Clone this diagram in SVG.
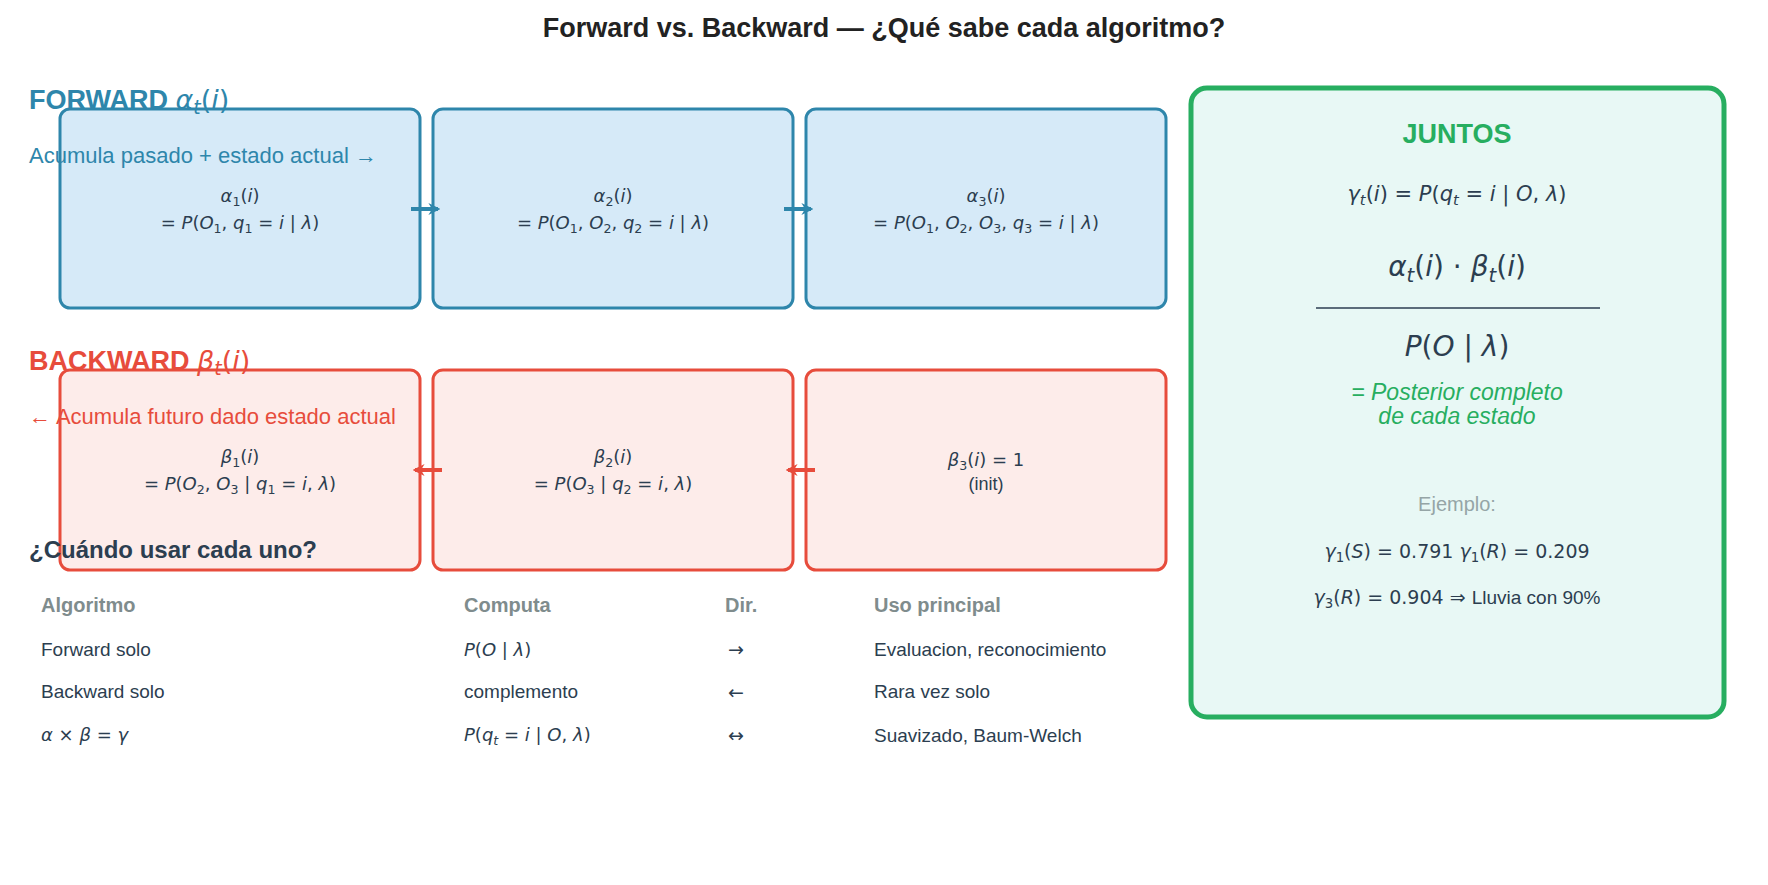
<svg xmlns="http://www.w3.org/2000/svg" width="1768" height="885" viewBox="0 0 1768 885">
<style>
.s{font-family:"Liberation Sans",Arial,sans-serif}
.m{font-family:"DejaVu Sans",sans-serif;fill:#2c3e50}
.i{font-style:italic}
.fb{fill:#d6eaf8;stroke:#2e86ab;stroke-width:3}
.bb{fill:#fdecea;stroke:#e74c3c;stroke-width:3}
.sub{font-size:70%}
</style>
<defs>
<marker id="ab" viewBox="0 0 10 10" refX="8" refY="5" markerWidth="3" markerHeight="3" orient="auto"><path d="M0,0 L10,5 L0,10 L3,5z" fill="#2e86ab"/></marker>
<marker id="ar" viewBox="0 0 10 10" refX="8" refY="5" markerWidth="3" markerHeight="3" orient="auto"><path d="M0,0 L10,5 L0,10 L3,5z" fill="#e74c3c"/></marker>
</defs>
<rect width="1768" height="885" fill="#fff"/>
<text x="884" y="37" text-anchor="middle" class="s" font-size="27" font-weight="bold" fill="#222">Forward vs. Backward — ¿Qué sabe cada algoritmo?</text>

<g id="f1"><rect class="fb" x="60" y="109" width="360" height="199" rx="10"/>
<text class="m" x="240" y="202" text-anchor="middle" font-size="18"><tspan class="i">α</tspan><tspan class="sub" dy="4">1</tspan><tspan dy="-4">(</tspan><tspan class="i">i</tspan>)</text>
<text class="m" x="240" y="229" text-anchor="middle" font-size="18">= <tspan class="i">P</tspan>(<tspan class="i">O</tspan><tspan class="sub" dy="4">1</tspan><tspan dy="-4">,  </tspan><tspan class="i">q</tspan><tspan class="sub" dy="4">1</tspan><tspan dy="-4"> = </tspan><tspan class="i">i</tspan> | <tspan class="i">λ</tspan>)</text></g>
<g id="f2"><rect class="fb" x="433" y="109" width="360" height="199" rx="10"/>
<text class="m" x="613" y="202" text-anchor="middle" font-size="18"><tspan class="i">α</tspan><tspan class="sub" dy="4">2</tspan><tspan dy="-4">(</tspan><tspan class="i">i</tspan>)</text>
<text class="m" x="613" y="229" text-anchor="middle" font-size="18">= <tspan class="i">P</tspan>(<tspan class="i">O</tspan><tspan class="sub" dy="4">1</tspan><tspan dy="-4">, </tspan><tspan class="i">O</tspan><tspan class="sub" dy="4">2</tspan><tspan dy="-4">,  </tspan><tspan class="i">q</tspan><tspan class="sub" dy="4">2</tspan><tspan dy="-4"> = </tspan><tspan class="i">i</tspan> | <tspan class="i">λ</tspan>)</text></g>
<g id="f3"><rect class="fb" x="806" y="109" width="360" height="199" rx="10"/>
<text class="m" x="986" y="202" text-anchor="middle" font-size="18"><tspan class="i">α</tspan><tspan class="sub" dy="4">3</tspan><tspan dy="-4">(</tspan><tspan class="i">i</tspan>)</text>
<text class="m" x="986" y="229" text-anchor="middle" font-size="18">= <tspan class="i">P</tspan>(<tspan class="i">O</tspan><tspan class="sub" dy="4">1</tspan><tspan dy="-4">, </tspan><tspan class="i">O</tspan><tspan class="sub" dy="4">2</tspan><tspan dy="-4">, </tspan><tspan class="i">O</tspan><tspan class="sub" dy="4">3</tspan><tspan dy="-4">,  </tspan><tspan class="i">q</tspan><tspan class="sub" dy="4">3</tspan><tspan dy="-4"> = </tspan><tspan class="i">i</tspan> | <tspan class="i">λ</tspan>)</text></g>

<g id="b1"><rect class="bb" x="60" y="370" width="360" height="200" rx="10"/>
<text class="m" x="240" y="463" text-anchor="middle" font-size="18"><tspan class="i">β</tspan><tspan class="sub" dy="4">1</tspan><tspan dy="-4">(</tspan><tspan class="i">i</tspan>)</text>
<text class="m" x="240" y="490" text-anchor="middle" font-size="18">= <tspan class="i">P</tspan>(<tspan class="i">O</tspan><tspan class="sub" dy="4">2</tspan><tspan dy="-4">, </tspan><tspan class="i">O</tspan><tspan class="sub" dy="4">3</tspan><tspan dy="-4"> | </tspan><tspan class="i">q</tspan><tspan class="sub" dy="4">1</tspan><tspan dy="-4"> = </tspan><tspan class="i">i</tspan>, <tspan class="i">λ</tspan>)</text></g>
<g id="b2"><rect class="bb" x="433" y="370" width="360" height="200" rx="10"/>
<text class="m" x="613" y="463" text-anchor="middle" font-size="18"><tspan class="i">β</tspan><tspan class="sub" dy="4">2</tspan><tspan dy="-4">(</tspan><tspan class="i">i</tspan>)</text>
<text class="m" x="613" y="490" text-anchor="middle" font-size="18">= <tspan class="i">P</tspan>(<tspan class="i">O</tspan><tspan class="sub" dy="4">3</tspan><tspan dy="-4"> | </tspan><tspan class="i">q</tspan><tspan class="sub" dy="4">2</tspan><tspan dy="-4"> = </tspan><tspan class="i">i</tspan>, <tspan class="i">λ</tspan>)</text></g>
<g id="b3"><rect class="bb" x="806" y="370" width="360" height="200" rx="10"/>
<text class="m" x="986" y="466" text-anchor="middle" font-size="18"><tspan class="i">β</tspan><tspan class="sub" dy="4">3</tspan><tspan dy="-4">(</tspan><tspan class="i">i</tspan>) = 1</text>
<text class="s" x="986" y="490" text-anchor="middle" font-size="18" fill="#2c3e50">(init)</text></g>

<g id="connectors" stroke-width="4" fill="none">
<line x1="411" y1="209" x2="438" y2="209" stroke="#2e86ab" marker-end="url(#ab)"/>
<line x1="784" y1="209" x2="811" y2="209" stroke="#2e86ab" marker-end="url(#ab)"/>
<line x1="442" y1="470" x2="415" y2="470" stroke="#e74c3c" marker-end="url(#ar)"/>
<line x1="815" y1="470" x2="788" y2="470" stroke="#e74c3c" marker-end="url(#ar)"/>
</g>

<g id="labels">
<text x="29" y="109" class="s" font-size="27" font-weight="bold" fill="#2e86ab">FORWARD <tspan font-family="DejaVu Sans" font-weight="normal" class="i"> α</tspan><tspan font-family="DejaVu Sans" font-weight="normal" class="i sub" dy="5">t</tspan><tspan font-family="DejaVu Sans" font-weight="normal" dy="-5">(</tspan><tspan font-family="DejaVu Sans" font-weight="normal" class="i">i</tspan><tspan font-family="DejaVu Sans" font-weight="normal">)</tspan></text>
<text x="29" y="163" class="s" font-size="22" fill="#2e86ab">Acumula pasado + estado actual  →</text>
<text x="29" y="370" class="s" font-size="27" font-weight="bold" fill="#e74c3c">BACKWARD <tspan font-family="DejaVu Sans" font-weight="normal" class="i"> β</tspan><tspan font-family="DejaVu Sans" font-weight="normal" class="i sub" dy="5">t</tspan><tspan font-family="DejaVu Sans" font-weight="normal" dy="-5">(</tspan><tspan font-family="DejaVu Sans" font-weight="normal" class="i">i</tspan><tspan font-family="DejaVu Sans" font-weight="normal">)</tspan></text>
<text x="29" y="424" class="s" font-size="22" fill="#e74c3c">←  Acumula futuro dado estado actual</text>
</g>

<g id="table" class="s" font-size="19" fill="#2c3e50">
<text x="29" y="558" font-size="24" font-weight="bold">¿Cuándo usar cada uno?</text>
<g font-weight="bold" fill="#7f8c8d" font-size="20"><text x="41" y="612">Algoritmo</text><text x="464" y="612">Computa</text><text x="725" y="612">Dir.</text><text x="874" y="612">Uso principal</text></g>
<text x="41" y="656">Forward solo</text>
<text x="464" y="656" class="m i" font-size="18">P<tspan font-style="normal">(</tspan>O<tspan font-style="normal"> | </tspan>λ<tspan font-style="normal">)</tspan></text>
<text x="728" y="656" class="m">→</text>
<text x="874" y="656">Evaluacion, reconocimiento</text>
<text x="41" y="698">Backward solo</text>
<text x="464" y="698">complemento</text>
<text x="728" y="699" class="m">←</text>
<text x="874" y="698">Rara vez solo</text>
<text x="41" y="741" class="m" font-size="18"><tspan class="i">α</tspan> × <tspan class="i">β</tspan> = <tspan class="i">γ</tspan></text>
<text x="464" y="741" class="m" font-size="18"><tspan class="i">P</tspan>(<tspan class="i">q</tspan><tspan class="sub i" dy="4">t</tspan><tspan dy="-4"> = </tspan><tspan class="i">i</tspan> | <tspan class="i">O</tspan>, <tspan class="i">λ</tspan>)</text>
<text x="728" y="742" class="m">↔</text>
<text x="874" y="742">Suavizado, Baum-Welch</text>
</g>

<g id="juntos">
<rect x="1191" y="88" width="533" height="629" rx="16" fill="#e8f8f5" stroke="#27ae60" stroke-width="5"/>
<text x="1457" y="143" text-anchor="middle" class="s" font-size="27" font-weight="bold" fill="#27ae60">JUNTOS</text>
<text x="1457" y="201" text-anchor="middle" class="m" font-size="21"><tspan class="i">γ</tspan><tspan class="sub i" dy="4">t</tspan><tspan dy="-4">(</tspan><tspan class="i">i</tspan>) = <tspan class="i">P</tspan>(<tspan class="i">q</tspan><tspan class="sub i" dy="4">t</tspan><tspan dy="-4"> = </tspan><tspan class="i">i</tspan> | <tspan class="i">O</tspan>, <tspan class="i">λ</tspan>)</text>
<text x="1457" y="276" text-anchor="middle" class="m" font-size="28"><tspan class="i">α</tspan><tspan class="sub i" dy="6">t</tspan><tspan dy="-6">(</tspan><tspan class="i">i</tspan>) · <tspan class="i">β</tspan><tspan class="sub i" dy="6">t</tspan><tspan dy="-6">(</tspan><tspan class="i">i</tspan>)</text>
<line x1="1316" y1="308" x2="1600" y2="308" stroke="#2c3e50" stroke-width="1.5"/>
<text x="1457" y="356" text-anchor="middle" class="m" font-size="28"><tspan class="i">P</tspan>(<tspan class="i">O</tspan> | <tspan class="i">λ</tspan>)</text>
<text x="1457" y="400" text-anchor="middle" class="s" font-size="23" font-style="italic" fill="#27ae60">= Posterior completo</text>
<text x="1457" y="424" text-anchor="middle" class="s" font-size="23" font-style="italic" fill="#27ae60">de cada estado</text>
<text x="1457" y="511" text-anchor="middle" class="s" font-size="20" fill="#95a5a6">Ejemplo:</text>
<text x="1457" y="558" text-anchor="middle" class="m" font-size="19"><tspan class="i">γ</tspan><tspan class="sub" dy="4">1</tspan><tspan dy="-4">(</tspan><tspan class="i">S</tspan>) = 0.791   <tspan class="i">γ</tspan><tspan class="sub" dy="4">1</tspan><tspan dy="-4">(</tspan><tspan class="i">R</tspan>) = 0.209</text>
<text x="1457" y="604" text-anchor="middle" class="m" font-size="19"><tspan class="i">γ</tspan><tspan class="sub" dy="4">3</tspan><tspan dy="-4">(</tspan><tspan class="i">R</tspan>) = 0.904  ⇒  <tspan font-family="Liberation Sans">Lluvia con 90%</tspan></text>
</g>
</svg>
